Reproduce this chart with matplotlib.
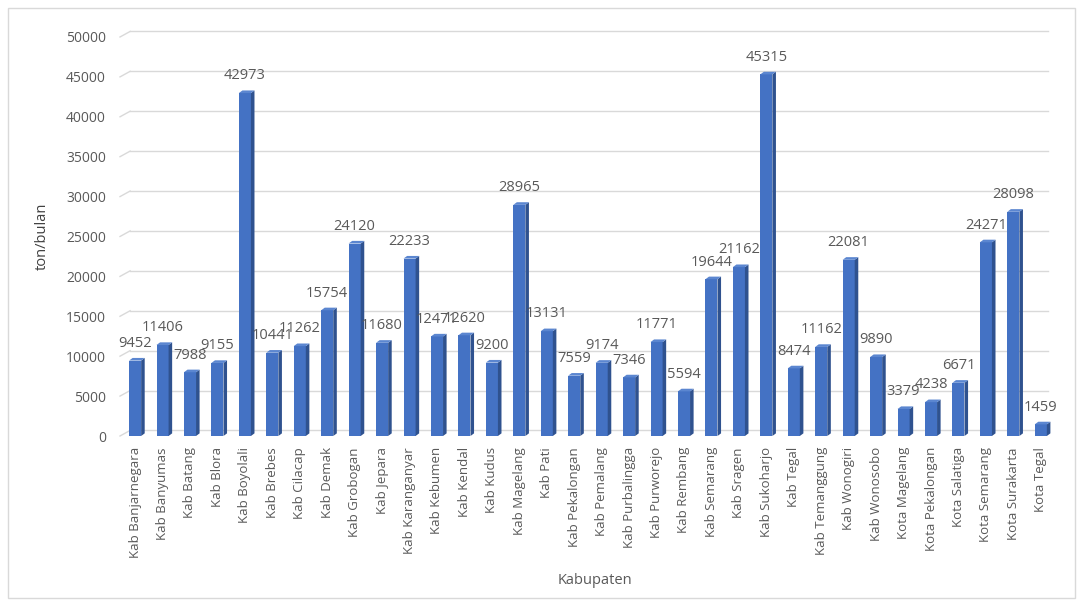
import matplotlib.pyplot as plt
from matplotlib.patches import Rectangle

plt.rcParams['font.family'] = ['Open Sans', 'DejaVu Sans']

kabupaten = ['Kab Banjarnegara', 'Kab Banyumas', 'Kab Batang', 'Kab Blora', 'Kab Boyolali',
             'Kab Brebes', 'Kab Cilacap', 'Kab Demak', 'Kab Grobogan', 'Kab Jepara',
             'Kab Karanganyar', 'Kab Kebumen', 'Kab Kendal', 'Kab Kudus', 'Kab Magelang',
             'Kab Pati', 'Kab Pekalongan', 'Kab Pemalang', 'Kab Purbalingga', 'Kab Purworejo',
             'Kab Rembang', 'Kab Semarang', 'Kab Sragen', 'Kab Sukoharjo', 'Kab Tegal',
             'Kab Temanggung', 'Kab Wonogiri', 'Kab Wonosobo', 'Kota Magelang',
             'Kota Pekalongan', 'Kota Salatiga', 'Kota Semarang', 'Kota Surakarta', 'Kota Tegal']
ton_bulan = [9452, 11406, 7988, 9155, 42973, 10441, 11262, 15754, 24120, 11680,
             22233, 12471, 12620, 9200, 28965, 13131, 7559, 9174, 7346, 11771,
             5594, 19644, 21162, 45315, 8474, 11162, 22081, 9890, 3379,
             4238, 6671, 24271, 28098, 1459]
yticks = list(range(0, 50001, 5000))

front = '#4472C4'
side = '#2F528F'
top = '#5B86D0'
txt = '#595959'

fig = plt.figure(figsize=(10.83, 6.04), dpi=100)
ax = fig.add_axes([120 / 1083, 1 - 436 / 604, 940 / 1083, 399 / 604])
ax.set_xlim(-0.55, 33.7)
ax.set_ylim(0, 50000)

# depth offsets in data units (perspective look)
wall_dx, wall_dy = 0.37, 700
bw = 0.44
sd_x, sd_y = 0.13, 330

# back wall gridlines with slanted start
for v in yticks:
    ax.plot([-0.55 + wall_dx, 33.25], [v + wall_dy, v + wall_dy], color='#d9d9d9', lw=1,
            zorder=0, clip_on=False)
    ax.plot([-0.55, -0.55 + wall_dx], [v, v + wall_dy], color='#d9d9d9', lw=1, zorder=0,
            clip_on=False)

x = list(range(len(kabupaten)))
ax.bar(x, ton_bulan, width=bw, color=front, zorder=3)
for xi, v in zip(x, ton_bulan):
    r = xi + bw / 2
    l = xi - bw / 2
    ax.fill([r, r + sd_x, r + sd_x, r], [0, sd_y, v + sd_y, v], color=side, zorder=3, lw=0)
    ax.fill([l, l + sd_x, r + sd_x, r], [v, v + sd_y, v + sd_y, v], color=top, zorder=3, lw=0)
    ax.annotate(str(v), (xi, v), xytext=(0, 7), textcoords='offset points',
                ha='center', va='bottom', fontsize=10.5, color=txt)

ax.set_xticks(x)
ax.set_xticklabels(kabupaten, rotation=90, fontsize=9.5, color=txt)
ax.set_yticks(yticks)
ax.set_yticklabels([str(v) for v in yticks], fontsize=10, color=txt)
ax.tick_params(length=0, pad=8)
ax.tick_params(axis='y', pad=10)
for s in ax.spines.values():
    s.set_visible(False)

ax.set_ylabel('ton/bulan', fontsize=10.5, color='#404040', labelpad=12)
fig.text(595 / 1083, 1 - 580 / 604, 'Kabupaten', ha='center', va='center',
         fontsize=10.5, color='#595959')

fig.patches.append(Rectangle((8 / 1083, 6 / 604), 1067 / 1083, 590 / 604,
                             transform=fig.transFigure, fill=False,
                             edgecolor='#d9d9d9', lw=1))

fig.savefig('out.png', dpi=100)
